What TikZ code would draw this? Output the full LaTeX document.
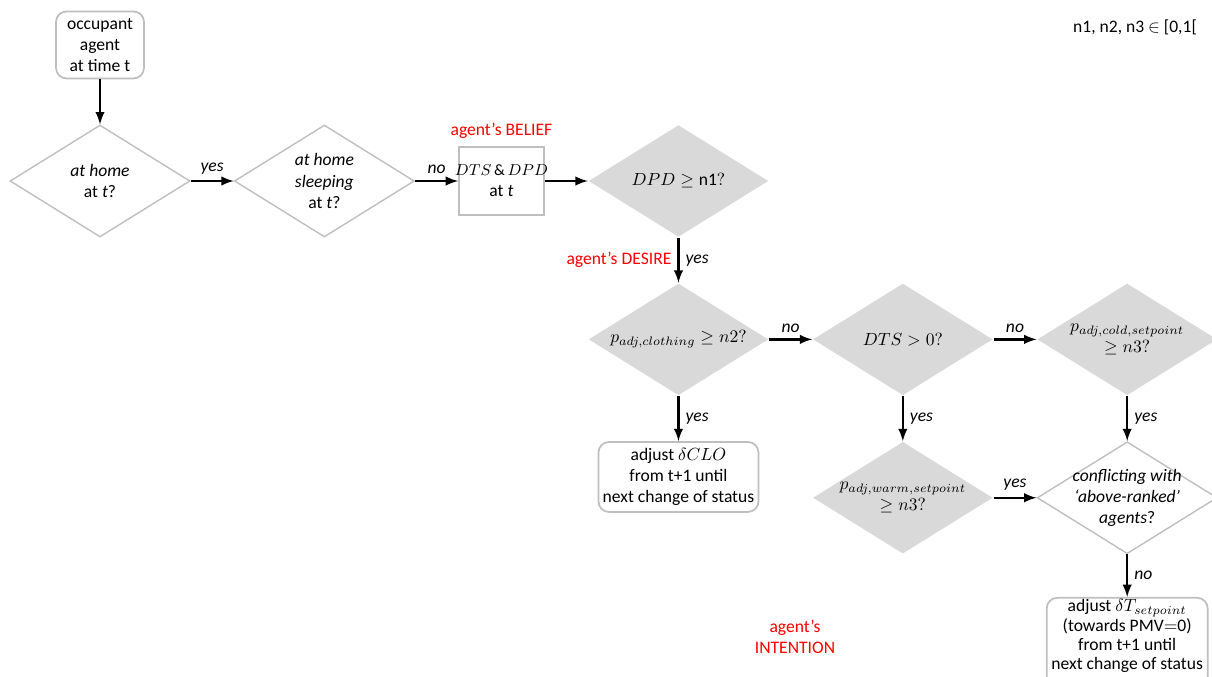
\documentclass[tikz,border=0pt]{standalone}
\usepackage{fontspec}
\setmainfont{Carlito}
\usetikzlibrary{positioning,shapes.geometric}
\definecolor{linegray}{RGB}{191,191,191}
\definecolor{boxgray}{RGB}{217,217,217}
\tikzset{>=latex,every label/.style={align=center},
  decision/.style={diamond,draw=linegray,line width=0.8pt,minimum width=3.6cm,minimum height=2.24cm,inner sep=0pt},
  filled/.style={decision,draw=none,fill=boxgray},
  block/.style={rectangle,draw=linegray,line width=1pt,align=center,inner sep=2pt},
  rounded/.style={block,rounded corners=6pt},
  bdi/.style={text=red,align=center}}

\begin{document}
\begin{tikzpicture}[x=0.02cm,y=-0.02cm,node distance=0.9cm and 0.86cm,font=\fontsize{10}{12}\selectfont]
    \useasboundingbox (0,0) rectangle (1212,676);
    \node [decision,label=center:{\textit{at home}\\at \textit{t}?}] (home) at (100,181) {};
    \node [rounded,above=of home,minimum width=1.76cm,minimum height=1.34cm] (agent) {occupant\\agent\\at time t};
    \node [decision,right=of home,label=center:{\textit{at home}\\\textit{sleeping}\\at \textit{t}?}] (sleep) {};
    \node [block,right=of sleep,minimum width=1.7cm,minimum height=1.36cm,inner xsep=0pt] (belief) {\makebox[1.66cm]{\fontsize{9}{11}\selectfont$DTS\,\&\,DPD$}\\at \textit{t}};
    \node [filled,right=of belief,label=center:{$DPD \geq \mathrm{n1}?$}] (dpd) {};
    \node [filled,below=of dpd,label=center:{$p_{adj,clothing} \geq n2?$}] (cloth) {};
    \node [filled,right=of cloth,label=center:{$DTS > 0?$}] (dts) {};
    \node [filled,right=of dts,label=center:{$p_{adj,cold,setpoint}$\\$\geq n3?$}] (cold) {};
    \node [rounded,below=of cloth,minimum width=3.2cm,minimum height=1.4cm] (clo) {adjust $\delta CLO$\\from t+1 until\\next change of status};
    \node [filled,below=of dts,label=center:{$p_{adj,warm,setpoint}$\\$\geq n3?$}] (warm) {};
    \node [decision,below=of cold,label=center:{\textit{conflicting with}\\\textit{‘above-ranked’}\\\textit{agents}?}] (conf) {};
    \node [rounded,below=0.85cm of conf,minimum width=3.22cm,inner ysep=1pt,anchor=north,font=\fontsize{10}{11}\selectfont] (setp) {adjust $\delta T_{setpoint}$\\(towards $\mathrm{PMV{=}0}$)\\from t+1 until\\next change of status\\[2pt]};
    % labels of the BDI steps
    \node [bdi,above=1pt of belief] (beliefnote) {agent’s BELIEF};
    \node [bdi] (intention) at (795,637) {agent’s\\INTENTION};
    \node (range) at (1135,27) {n1, n2, n3 $\in$ [0,1[};
    \path [->,line width=1.4pt]
      (agent) edge (home)
      (home) edge node [above] {\textit{yes}} (sleep)
      (sleep) edge node [above] {\textit{no}} (belief)
      (belief) edge (dpd)
      (dpd) edge node [right] {\textit{yes}} node [left,bdi] {agent’s DESIRE} (cloth)
      (cloth) edge node [above] {\textit{no}} (dts)
      (dts) edge node [above] {\textit{no}} (cold)
      (cloth) edge node [right] {\textit{yes}} (clo)
      (dts) edge node [right] {\textit{yes}} (warm)
      (cold) edge node [right] {\textit{yes}} (conf)
      (warm) edge node [above] {\textit{yes}} (conf)
      (conf) edge node [right] {\textit{no}} (setp)
    ;
\end{tikzpicture}
\end{document}
